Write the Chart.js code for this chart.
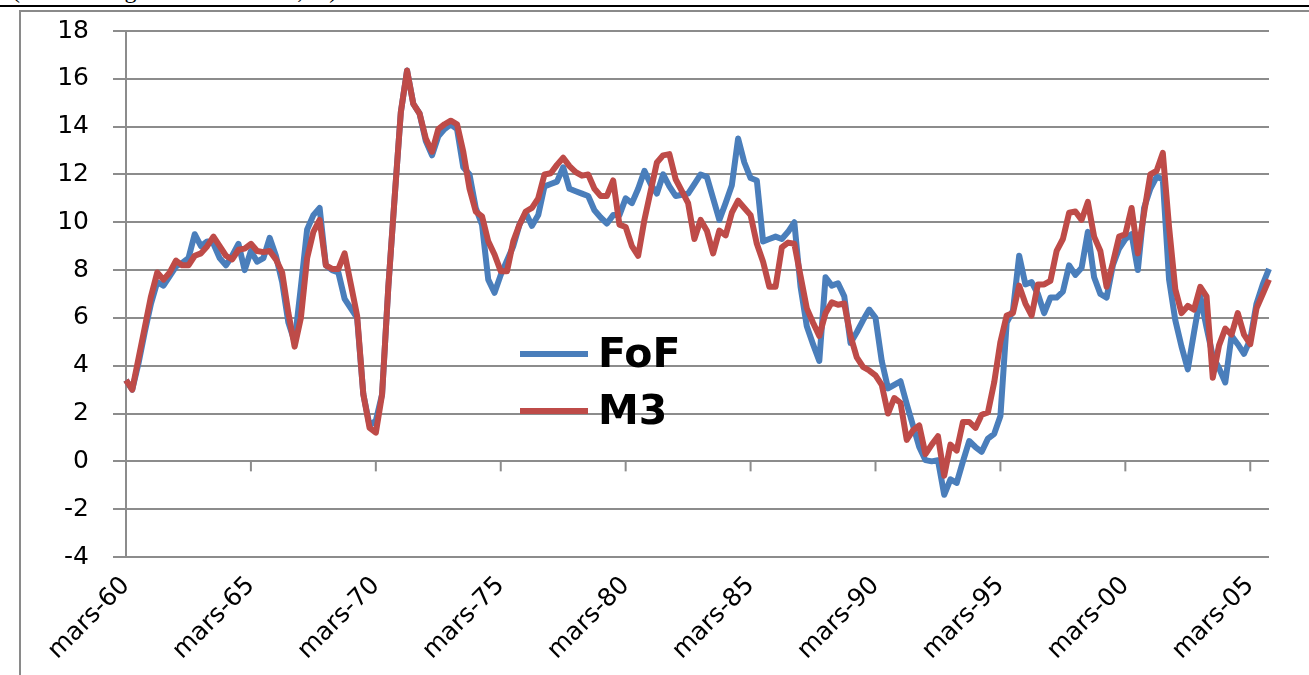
<!DOCTYPE html>
<html lang="fr">
<head>
<meta charset="utf-8">
<title>FoF et M3</title>
<script src="https://cdn.jsdelivr.net/npm/chart.js@4.4.1/dist/chart.umd.min.js"></script>
<style>
    html, body { margin: 0; padding: 0; background: #fff; }
    body { width: 1309px; height: 675px; position: relative; overflow: hidden; font-family: 'DejaVu Sans', sans-serif; }
    .top-note { position: absolute; left: 12px; top: -23px; font: 24px 'Liberation Serif', serif; color: #000; white-space: nowrap; }
    .top-rule { position: absolute; left: 0; right: 0; top: 5px; height: 2px; background: #000; }
    .frame { position: absolute; left: 19px; top: 10px; width: 1400px; height: 700px; border-left: 2px solid #8a8a8a; border-top: 2px solid #8a8a8a; }
    #chart { position: absolute; left: 0; top: -8px; }
    .legend { position: absolute; left: 520px; top: 325px; }
    .legend-row { display: flex; align-items: center; height: 57px; }
    .legend-line { width: 68px; height: 6px; margin-right: 10px; }
    .legend-text { font: bold 41px 'DejaVu Sans', sans-serif; color: #000; line-height: 1; }
</style>
</head>
<body>
<div class="top-note">(en taux de glissement annuel, %)</div>
<div class="top-rule"></div>
<div class="frame"></div>
<canvas id="chart" width="1309" height="683"></canvas>
<div class="legend" id="legend"></div>
<script>
const colors = {
    fof: '#4a7ebb',
    m3: '#be4b48',
    grid: '#8c8c8c',
    text: '#000000'
};

// quarterly observations, mars-60 .. déc-05
const quarterNames = ['mars', 'juin', 'sept', 'déc'];
const firstYear = 1960;
const lastYear = 2005;

const fofValues = [
    3.4, 3.0, 4.1, 5.4, 6.6, 7.5, 7.35, 7.75, 8.15, 8.3,
    8.5, 9.5, 9.0, 9.2, 9.1, 8.5, 8.2, 8.6, 9.1, 8.0,
    8.8, 8.35, 8.5, 9.35, 8.6, 7.5, 5.8, 5.0, 7.3, 9.7,
    10.3, 10.6, 8.2, 8.0, 7.9, 6.8, 6.4, 6.0, 2.8, 1.5,
    1.7, 2.8, 7.3, 11.0, 14.6, 16.35, 14.95, 14.55, 13.4, 12.8,
    13.6, 13.9, 14.1, 13.9, 12.3, 12.0, 10.6, 9.9, 7.6, 7.05,
    7.8, 8.4, 9.0, 9.9, 10.4, 9.85, 10.3, 11.5, 11.6, 11.7,
    12.3, 11.4, 11.3, 11.2, 11.1, 10.5, 10.2, 9.95, 10.3, 10.3,
    11.0, 10.8, 11.4, 12.15, 11.6, 11.2, 12.0, 11.5, 11.1, 11.15,
    11.2, 11.6, 12.0, 11.9, 11.0, 10.1, 10.8, 11.55, 13.5, 12.5,
    11.85, 11.75, 9.2, 9.3, 9.4, 9.3, 9.6, 10.0, 7.3, 5.65,
    4.9, 4.2, 7.7, 7.35, 7.45, 6.9, 4.95, 5.4, 5.9, 6.35,
    6.0, 4.2, 3.05, 3.2, 3.35, 2.4, 1.5, 0.6, 0.05, 0.0,
    0.05, -1.4, -0.75, -0.9, 0.0, 0.85, 0.6, 0.4, 0.95, 1.15,
    1.9, 5.8, 6.3, 8.6, 7.4, 7.5, 7.0, 6.2, 6.85, 6.85,
    7.1, 8.2, 7.8, 8.1, 9.6, 7.7, 7.0, 6.85, 8.2, 8.9,
    9.3, 9.5, 8.0, 10.6, 11.4, 11.9, 11.8, 7.6, 5.9, 4.8,
    3.85, 5.4, 6.9, 5.6, 4.4, 3.9, 3.3, 5.25, 4.9, 4.5,
    5.1, 6.6, 7.4, 8.05
];

const m3Values = [
    3.4, 3.0, 4.3, 5.6, 6.9, 7.9, 7.6, 7.9, 8.4, 8.2,
    8.2, 8.6, 8.7, 9.0, 9.4, 9.0, 8.6, 8.45, 8.85, 8.9,
    9.1, 8.8, 8.75, 8.8, 8.45, 7.9, 6.2, 4.8, 6.0, 8.5,
    9.6, 10.1, 8.2, 8.05, 8.05, 8.7, 7.4, 6.1, 2.8, 1.4,
    1.2, 2.8, 7.3, 11.0, 14.6, 16.35, 14.95, 14.55, 13.5, 12.95,
    13.9, 14.1, 14.25, 14.1, 12.95, 11.4, 10.45, 10.25, 9.2, 8.65,
    7.95, 7.95, 9.2, 9.9, 10.45, 10.6, 11.0, 12.0, 12.05, 12.4,
    12.7, 12.35, 12.1, 11.95, 12.0, 11.4, 11.1, 11.1, 11.75, 9.9,
    9.8, 9.0, 8.6, 10.1, 11.3, 12.5, 12.8, 12.85, 11.8, 11.3,
    10.8, 9.3, 10.1, 9.65, 8.7, 9.65, 9.45, 10.4, 10.9, 10.6,
    10.3, 9.1, 8.35, 7.3, 7.3, 8.95, 9.15, 9.1, 7.75, 6.4,
    5.8, 5.25, 6.2, 6.65, 6.55, 6.6, 5.25, 4.35, 3.95, 3.8,
    3.6, 3.2, 2.0, 2.65, 2.45, 0.9, 1.3, 1.5, 0.3, 0.7,
    1.05, -0.6, 0.7, 0.45, 1.65, 1.65, 1.4, 1.95, 2.05, 3.3,
    5.0, 6.1, 6.2, 7.35, 6.6, 6.1, 7.4, 7.4, 7.55, 8.8,
    9.3, 10.4, 10.45, 10.1, 10.85, 9.4, 8.8, 7.3, 8.3, 9.4,
    9.5, 10.6, 8.7, 10.4, 12.0, 12.15, 12.9, 9.8, 7.2, 6.2,
    6.5, 6.35, 7.3, 6.9, 3.5, 4.85, 5.55, 5.3, 6.2, 5.3,
    4.9, 6.4, 7.0, 7.6
];

const yTicks = { min: -4, max: 18, step: 2 };
const labelEvery = 20;

const quarters = [];
for (let year = firstYear; year <= lastYear; year++) {
    quarterNames.forEach((name) => {
        quarters.push(`${name}-${String(year % 100).padStart(2, '0')}`);
    });
}

// small tick marks hanging from the zero line, every five years
const zeroTicks = {
    id: 'zeroTicks',
    beforeDatasetsDraw(chart) {
        const { ctx, scales } = chart;
        const y0 = scales.y.getPixelForValue(0);
        ctx.save();
        ctx.strokeStyle = colors.grid;
        ctx.lineWidth = 2;
        for (let i = 0; i < quarters.length; i += labelEvery) {
            const x = scales.x.getPixelForValue(i);
            ctx.beginPath();
            ctx.moveTo(x, y0);
            ctx.lineTo(x, y0 + 10);
            ctx.stroke();
        }
        ctx.restore();
    }
};

const tickFont = { family: 'DejaVu Sans', size: 25 };

const chart = new Chart(document.getElementById('chart'), {
    type: 'line',
    data: {
        labels: quarters,
        datasets: [
            {
                label: 'FoF',
                data: fofValues,
                borderColor: colors.fof,
                backgroundColor: colors.fof,
                borderWidth: 6,
                order: 2
            },
            {
                label: 'M3',
                data: m3Values,
                borderColor: colors.m3,
                backgroundColor: colors.m3,
                borderWidth: 6,
                order: 1
            }
        ]
    },
    options: {
        responsive: false,
        animation: false,
        layout: { padding: { top: 22, right: 40, left: 0, bottom: 0 } },
        plugins: {
            legend: { display: false },
            tooltip: { enabled: false }
        },
        elements: {
            point: { radius: 0 },
            line: { tension: 0, borderJoinStyle: 'round', borderCapStyle: 'butt' }
        },
        scales: {
            x: {
                offset: false,
                grid: { display: false, drawTicks: false },
                border: { display: false },
                ticks: {
                    autoSkip: false,
                    minRotation: 45,
                    maxRotation: 45,
                    padding: 14,
                    color: colors.text,
                    font: tickFont,
                    callback: (value, index) => (index % labelEvery === 0 ? quarters[index] : '')
                },
                afterFit: (scale) => { scale.height = 118; }
            },
            y: {
                min: yTicks.min,
                max: yTicks.max,
                ticks: {
                    stepSize: yTicks.step,
                    padding: 24,
                    color: colors.text,
                    font: tickFont
                },
                grid: { color: colors.grid, lineWidth: 2, tickLength: 13 },
                border: { display: true, color: colors.grid, width: 2 },
                afterFit: (scale) => { scale.width = 126; }
            }
        }
    },
    plugins: [zeroTicks]
});

// legend drawn from the datasets, placed inside the plot like the original
const legend = document.getElementById('legend');
chart.data.datasets.forEach((ds) => {
    const row = document.createElement('div');
    row.className = 'legend-row';
    const line = document.createElement('span');
    line.className = 'legend-line';
    line.style.background = ds.borderColor;
    const text = document.createElement('span');
    text.className = 'legend-text';
    text.innerText = ds.label;
    row.appendChild(line);
    row.appendChild(text);
    legend.appendChild(row);
});
</script>
</body>
</html>
